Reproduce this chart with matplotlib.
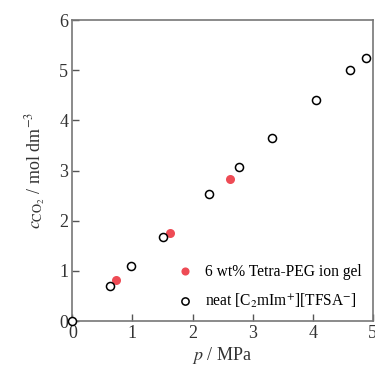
import matplotlib
matplotlib.use("Agg")
import matplotlib.pyplot as plt

plt.rcParams["font.family"] = ["Liberation Serif", "DejaVu Serif"]
plt.rcParams["mathtext.fontset"] = "stix"

# CO2 solubility vs pressure
gel_p = [0.72, 1.62, 2.63]
gel_c = [0.82, 1.76, 2.83]

neat_p = [0.0, 0.62, 0.98, 1.51, 2.27, 2.78, 3.32, 4.06, 4.62, 4.88]
neat_c = [0.0, 0.69, 1.10, 1.67, 2.53, 3.08, 3.65, 4.40, 5.00, 5.24]

x_ticks = [0, 1, 2, 3, 4, 5]
y_ticks = [0, 1, 2, 3, 4, 5, 6]

fig = plt.figure(figsize=(3.75, 3.72), dpi=100)
ax = fig.add_axes([0.193, 0.137, 0.801, 0.809])

ax.plot(gel_p, gel_c, "o", color="#ee4b55", markersize=6.5, markeredgewidth=0,
        label="6 wt% Tetra-PEG ion gel", clip_on=False, zorder=3)
ax.plot(neat_p, neat_c, "o", markerfacecolor="white", markeredgecolor="black",
        markersize=5.8, markeredgewidth=1.1,
        label=r"neat [C$_2$mIm$^{+}$][TFSA$^{-}$]", clip_on=False, zorder=3)

ax.set_xlim(0, 5)
ax.set_ylim(0, 6)
ax.set_xticks(x_ticks)
ax.set_yticks(y_ticks)
ax.tick_params(direction="in", length=5, width=1, colors="#555555",
               labelcolor="#333333", labelsize=13, pad=3)
for sp in ax.spines.values():
    sp.set_color("#777777")
    sp.set_linewidth(1.2)

ax.set_xlabel(r"$p$ / MPa", fontsize=13, color="#333333", labelpad=2)
ax.set_ylabel(r"$c_{\mathrm{CO_2}}$ / mol dm$^{-3}$", fontsize=13,
              color="#333333", labelpad=8)

ax.legend(loc="lower right", frameon=False, fontsize=11.2, handletextpad=0.3,
          borderaxespad=0.3, labelspacing=0.75, markerscale=0.9,
          bbox_to_anchor=(1.0, 0.0))

fig.savefig("out.png", dpi=100)
